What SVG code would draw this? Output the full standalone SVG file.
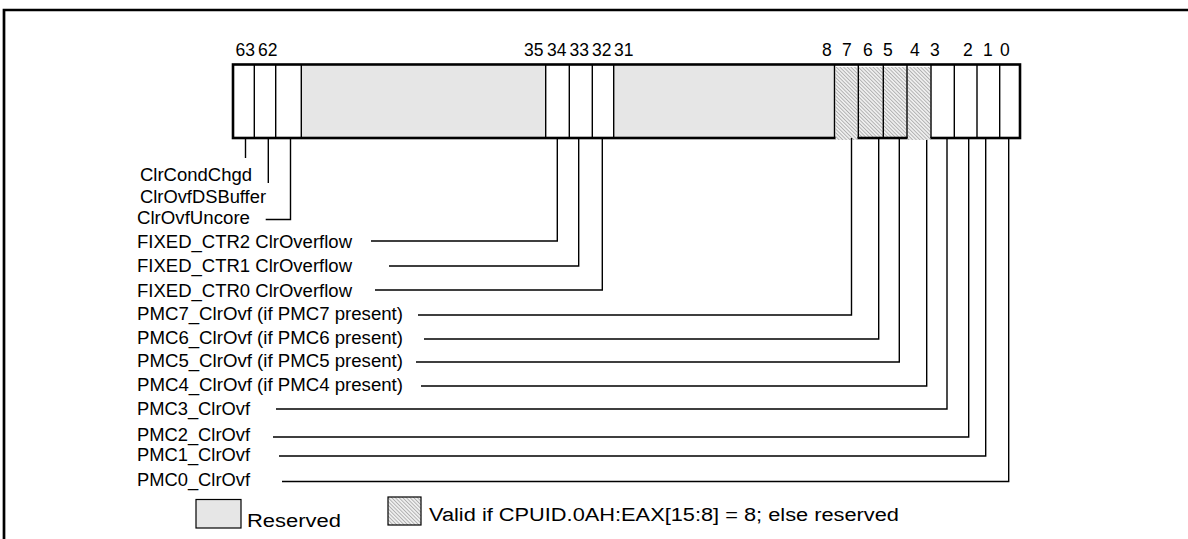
<svg xmlns="http://www.w3.org/2000/svg" width="1188" height="539" viewBox="0 0 1188 539">
<style>
text{font-family:"Liberation Sans",Arial,sans-serif;font-size:18px;fill:#000}
.bit{font-size:17.5px}
.div{stroke:#000;stroke-width:1.4;fill:none}
.con{stroke:#000;stroke-width:1.4;fill:none}
.res{fill:#e6e6e6}
.hat{fill:url(#hatch)}
</style>
<defs>
<pattern id="hatch" patternUnits="userSpaceOnUse" width="2.6" height="2.6" patternTransform="rotate(-45)">
<rect width="2.6" height="2.6" fill="#f0f0f0"/>
<line x1="0.5" y1="0" x2="0.5" y2="2.6" stroke="#a3a3a3" stroke-width="0.8"/>
</pattern>
</defs>
<rect width="1188" height="539" fill="#fff"/>
<path d="M4,560 V10 H1200" fill="none" stroke="#000" stroke-width="2.7"/>

<g id="register">
<rect class="res" x="302" y="66" width="243.5" height="71"/>
<rect class="res" x="614" y="66" width="220" height="71"/>
<rect class="hat" x="859" y="67" width="24" height="71"/>
<rect class="hat" x="884" y="67" width="22.5" height="71"/>
<rect x="233" y="64.5" width="787" height="73.5" fill="none" stroke="#000" stroke-width="2.6"/>
<rect class="hat" x="835.5" y="67" width="22" height="73"/>
<rect class="hat" x="907.5" y="67" width="23" height="73"/>
<path class="div" d="M254.3,65 V138 M275.7,65 V138 M301.3,65 V138 M545.7,65 V138 M569.3,65 V138 M592.3,65 V138 M613.7,65 V138 M834.5,65 V138 M858.3,65 V138 M883.3,65 V138 M907,65 V138 M931,65 V138 M954.3,65 V138 M977,65 V138 M999.7,65 V138"/>
<g id="bitnums">
<text class="bit" x="235.5" y="56">63</text>
<text class="bit" x="258" y="56">62</text>
<text class="bit" x="524" y="56">35</text>
<text class="bit" x="547" y="56">34</text>
<text class="bit" x="569.5" y="56">33</text>
<text class="bit" x="592" y="56">32</text>
<text class="bit" x="614" y="56">31</text>
<text class="bit" x="822" y="56">8</text>
<text class="bit" x="842" y="56">7</text>
<text class="bit" x="863" y="56">6</text>
<text class="bit" x="883" y="56">5</text>
<text class="bit" x="910" y="56">4</text>
<text class="bit" x="930" y="56">3</text>
<text class="bit" x="963" y="56">2</text>
<text class="bit" x="983" y="56">1</text>
<text class="bit" x="1000" y="56">0</text>
</g>
</g>

<g id="connectors">
<polyline class="con" points="245.5,138 245.5,158"/>
<polyline class="con" points="268.3,138 268.3,183"/>
<polyline class="con" points="265.7,219.5 290.5,219.5 290.5,138"/>
<polyline class="con" points="371,241 557.3,241 557.3,138"/>
<polyline class="con" points="389,266 578.7,266 578.7,138"/>
<polyline class="con" points="375,290 602.3,290 602.3,138"/>
<polyline class="con" points="418,315 851.5,315 851.5,138"/>
<polyline class="con" points="424,339 878.7,339 878.7,138"/>
<polyline class="con" points="416,362 899.3,362 899.3,138"/>
<polyline class="con" points="421,386 926.7,386 926.7,140"/>
<polyline class="con" points="276,409 947,409 947,138"/>
<polyline class="con" points="273,437 968.7,437 968.7,138"/>
<polyline class="con" points="279,456 985.7,456 985.7,138"/>
<polyline class="con" points="282,481.5 1008.7,481.5 1008.7,138"/>
</g>

<g id="lbl-clrcondchgd"><text x="140" y="181" textLength="112" lengthAdjust="spacingAndGlyphs">ClrCondChgd</text></g>
<g id="lbl-clrovfdsbuffer"><text x="140" y="203" textLength="126" lengthAdjust="spacingAndGlyphs">ClrOvfDSBuffer</text></g>
<g id="lbl-clrovfuncore"><text x="137" y="224" textLength="113" lengthAdjust="spacingAndGlyphs">ClrOvfUncore</text></g>
<g id="lbl-fixed2"><text x="137" y="248" textLength="215" lengthAdjust="spacingAndGlyphs">FIXED_CTR2 ClrOverflow</text></g>
<g id="lbl-fixed1"><text x="137" y="272" textLength="215" lengthAdjust="spacingAndGlyphs">FIXED_CTR1 ClrOverflow</text></g>
<g id="lbl-fixed0"><text x="137" y="297" textLength="215" lengthAdjust="spacingAndGlyphs">FIXED_CTR0 ClrOverflow</text></g>
<g id="lbl-pmc7"><text x="137" y="320" textLength="266" lengthAdjust="spacingAndGlyphs">PMC7_ClrOvf (if PMC7 present)</text></g>
<g id="lbl-pmc6"><text x="137" y="344" textLength="266" lengthAdjust="spacingAndGlyphs">PMC6_ClrOvf (if PMC6 present)</text></g>
<g id="lbl-pmc5"><text x="137" y="367" textLength="266" lengthAdjust="spacingAndGlyphs">PMC5_ClrOvf (if PMC5 present)</text></g>
<g id="lbl-pmc4"><text x="137" y="391" textLength="266" lengthAdjust="spacingAndGlyphs">PMC4_ClrOvf (if PMC4 present)</text></g>
<g id="lbl-pmc3"><text x="137" y="415" textLength="113" lengthAdjust="spacingAndGlyphs">PMC3_ClrOvf</text></g>
<g id="lbl-pmc2"><text x="137" y="441" textLength="113" lengthAdjust="spacingAndGlyphs">PMC2_ClrOvf</text></g>
<g id="lbl-pmc1"><text x="137" y="461" textLength="113" lengthAdjust="spacingAndGlyphs">PMC1_ClrOvf</text></g>
<g id="lbl-pmc0"><text x="137" y="486" textLength="113" lengthAdjust="spacingAndGlyphs">PMC0_ClrOvf</text></g>

<g id="legend-reserved">
<rect x="196" y="499.5" width="45" height="28.5" fill="#e6e6e6" stroke="#000" stroke-width="1.2"/>
<text x="247" y="527" textLength="94" lengthAdjust="spacingAndGlyphs">Reserved</text>
</g>
<g id="legend-valid">
<rect x="388" y="497" width="33" height="28" fill="url(#hatch)" stroke="#000" stroke-width="1.2"/>
<text x="429" y="521" textLength="470" lengthAdjust="spacingAndGlyphs">Valid if CPUID.0AH:EAX[15:8] = 8; else reserved</text>
</g>
</svg>
